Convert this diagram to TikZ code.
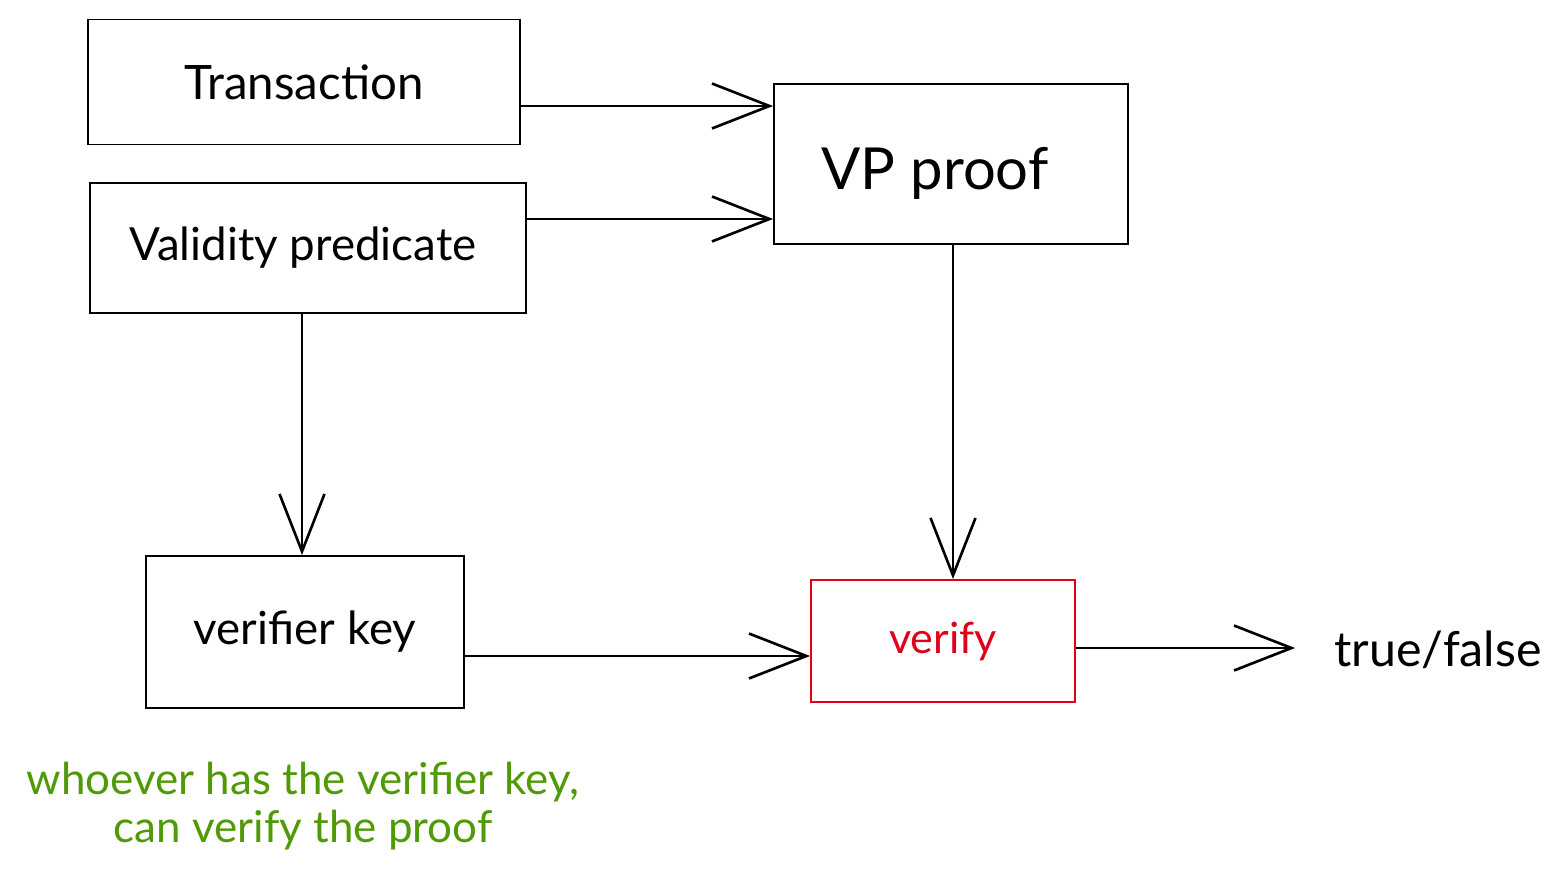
\documentclass[tikz,border=0pt]{standalone}
\usepackage{fontspec}
\setmainfont{Lato}
\usetikzlibrary{arrows.meta}
\definecolor{vred}{HTML}{E0001B}
\definecolor{vgreen}{HTML}{4F9A06}
\begin{document}
\begin{tikzpicture}[x=0.02cm,y=-0.02cm,
  box/.style={draw=black, line width=1.1pt, inner sep=0pt},
  lbl/.style={font=\fontsize{26}{30}\selectfont},
  arr/.style={draw=black, line width=1.5pt,
    -{Straight Barb[length=1.15cm,width=0.9cm,line width=1.5pt]}}]
  \useasboundingbox (0,0) rectangle (1562,876);

  % boxes
  \node[box, font=\fontsize{27}{30}\selectfont, minimum width=8.64cm, minimum height=2.5cm] (tx) at (304,82) {Transaction};
  \node[box, minimum width=8.74cm, minimum height=2.6cm] (vpred) at (308,248) {};
  \node[lbl] (vpredt) at (303,248) {Validity predicate};
  \node[box, minimum width=7.08cm, minimum height=3.2cm] (vp) at (951,164) {};
  \node[font=\fontsize{33}{38}\selectfont] (vpt) at (935,173) {VP proof};
  \node[box, lbl, minimum width=6.36cm, minimum height=3.04cm] (vk) at (305,632) {verifier key};
  \node[box, draw=vred, text=vred, font=\fontsize{24.5}{28}\selectfont, minimum width=5.28cm, minimum height=2.44cm] (ver) at (943,641) {verify};
  \node[font=\fontsize{27.5}{31}\selectfont] (tf) at (1438,650) {true/false};
  \node[text=vgreen, font=\fontsize{25}{27}\selectfont, align=center] (note) at (303,806)
    {whoever has the verifier key,\\can verify the proof};

  % connectors
  \coordinate (a1) at ([yshift=-0.48cm]tx.east);
  \draw[arr] (a1) -- (a1 -| vp.west);
  \coordinate (a2) at ([yshift=-1.1cm]vp.west);
  \draw[arr] (a2 -| vpred.east) -- (a2);
  \coordinate (d1) at ([xshift=-0.12cm]vpred.south);
  \draw[arr] (d1) -- (d1 |- vk.north);
  \coordinate (d2) at ([xshift=0.04cm]vp.south);
  \draw[arr] (d2) -- (d2 |- ver.north);
  \coordinate (a3) at ([yshift=-0.3cm]ver.west);
  \draw[arr] (a3 -| vk.east) -- (a3);
  \coordinate (a4) at ([yshift=-0.14cm]ver.east);
  \coordinate (a5) at ([xshift=-0.66cm]tf.west);
  \draw[arr] (a4) -- (a4 -| a5);
\end{tikzpicture}
\end{document}
